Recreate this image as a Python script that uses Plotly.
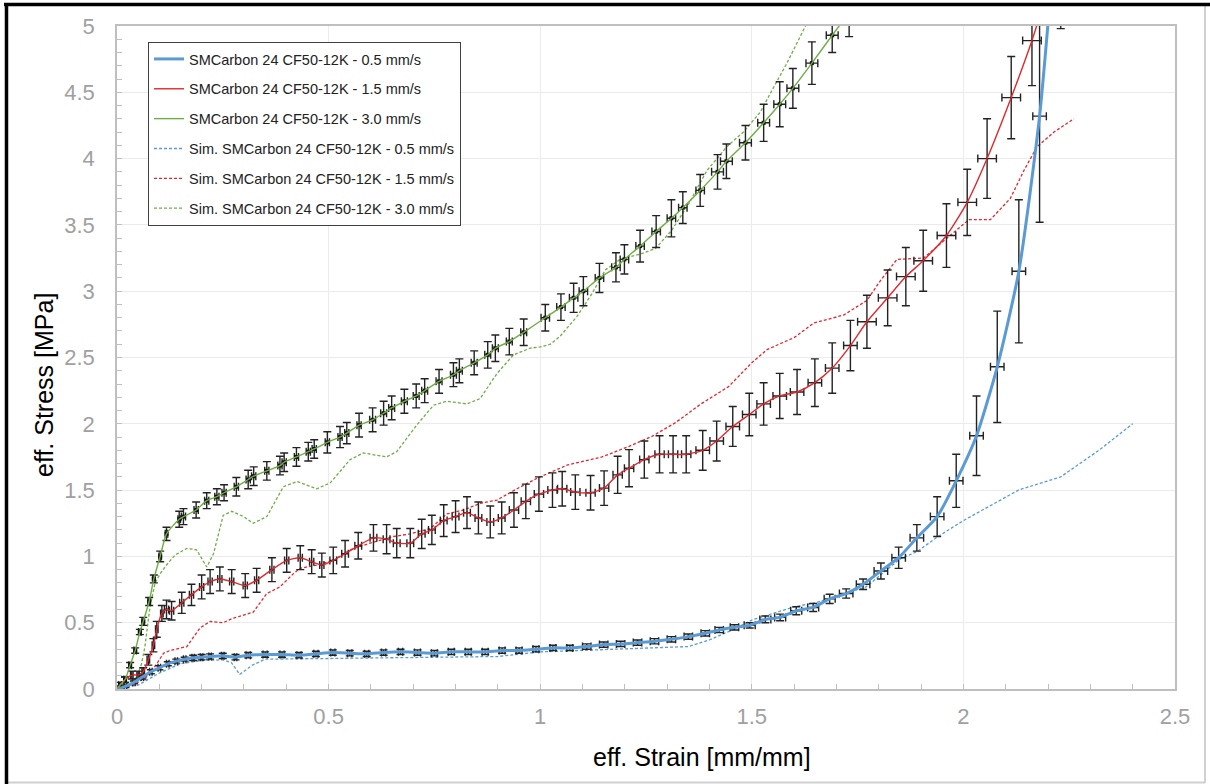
import plotly.graph_objects as go

# ---------------- data ----------------
# Experimental 0.5 mm/s
exp05_x = [0, 0.02, 0.04, 0.06, 0.08, 0.10, 0.12, 0.14, 0.16, 0.18, 0.20, 0.22, 0.25, 0.28, 0.31, 0.35,
           0.39, 0.43, 0.47, 0.51, 0.55, 0.59, 0.63, 0.67, 0.71, 0.75, 0.79, 0.83, 0.87, 0.91, 0.95,
           0.99, 1.03, 1.07, 1.11, 1.15, 1.19, 1.23, 1.27, 1.31, 1.35, 1.39, 1.423, 1.459, 1.495,
           1.532, 1.567, 1.605, 1.645, 1.684, 1.723, 1.763, 1.805, 1.847, 1.89, 1.938, 1.983, 2.031,
           2.08, 2.131, 2.18, 2.215]
exp05_y = [0, 0.02, 0.05, 0.09, 0.13, 0.16, 0.19, 0.21, 0.225, 0.235, 0.24, 0.245, 0.25, 0.24, 0.255, 0.26,
           0.26, 0.255, 0.265, 0.275, 0.27, 0.265, 0.275, 0.28, 0.275, 0.27, 0.28, 0.28, 0.28, 0.29, 0.29,
           0.30, 0.31, 0.31, 0.32, 0.335, 0.34, 0.35, 0.36, 0.375, 0.395, 0.42, 0.445, 0.465, 0.48,
           0.525, 0.54, 0.59, 0.615, 0.68, 0.72, 0.79, 0.89, 0.99, 1.14, 1.30, 1.57, 1.91,
           2.43, 3.15, 4.32, 5.6]
exp05_ey = [0.01, 0.01, 0.01, 0.015, 0.015, 0.015, 0.015, 0.015, 0.015, 0.02, 0.02, 0.02, 0.02, 0.02, 0.02, 0.02,
            0.02, 0.02, 0.02, 0.02, 0.02, 0.02, 0.02, 0.02, 0.02, 0.02, 0.02, 0.02, 0.02, 0.02, 0.02,
            0.02, 0.02, 0.02, 0.02, 0.02, 0.02, 0.02, 0.02, 0.02, 0.02, 0.02, 0.02, 0.02, 0.02,
            0.025, 0.025, 0.03, 0.03, 0.035, 0.035, 0.04, 0.06, 0.08, 0.10, 0.15, 0.20, 0.30,
            0.42, 0.54, 0.80, 0.3]
exp05_ex = [0.003] * 14 + [0.005] * 10 + [0.007] * 10 + [0.01] * 10 + [0.013] * 6 + [0.016] * 12

# Experimental 1.5 mm/s
exp15_x = [0, 0.019, 0.035, 0.05, 0.062, 0.074, 0.086, 0.094, 0.106, 0.117, 0.129, 0.153, 0.176, 0.2, 0.22,
           0.243, 0.271, 0.303, 0.33, 0.366, 0.401, 0.433, 0.46, 0.484, 0.511, 0.539, 0.57, 0.606, 0.637,
           0.661, 0.693, 0.72, 0.744, 0.772, 0.80, 0.827, 0.854, 0.882, 0.909, 0.938, 0.966, 0.997, 1.029,
           1.052, 1.083, 1.119, 1.151, 1.183, 1.21, 1.246, 1.282, 1.314, 1.345, 1.384, 1.417, 1.455, 1.494,
           1.528, 1.566, 1.607, 1.649, 1.69, 1.733, 1.772, 1.821, 1.864, 1.905, 1.96, 2.009, 2.056, 2.113,
           2.162, 2.23]
exp15_y = [0, 0.07, 0.105, 0.105, 0.13, 0.22, 0.33, 0.45, 0.57, 0.60, 0.59, 0.65, 0.71, 0.77, 0.81,
           0.83, 0.81, 0.78, 0.82, 0.90, 0.97, 0.99, 0.96, 0.935, 0.97, 1.02, 1.08, 1.14, 1.13,
           1.10, 1.10, 1.17, 1.20, 1.27, 1.30, 1.33, 1.29, 1.26, 1.29, 1.35, 1.415, 1.47, 1.50,
           1.51, 1.485, 1.48, 1.515, 1.615, 1.665, 1.73, 1.77, 1.77, 1.77, 1.80, 1.87, 1.98, 2.07,
           2.15, 2.21, 2.24, 2.31, 2.42, 2.59, 2.77, 2.95, 3.11, 3.23, 3.42, 3.67, 4.0, 4.46,
           4.89, 5.6]
exp15_ey = [0.01, 0.02, 0.03, 0.03, 0.03, 0.04, 0.05, 0.06, 0.06, 0.07, 0.07, 0.08, 0.08, 0.09, 0.09,
            0.09, 0.09, 0.09, 0.09, 0.09, 0.09, 0.09, 0.09, 0.09, 0.1, 0.1, 0.1, 0.1, 0.11,
            0.11, 0.11, 0.11, 0.11, 0.12, 0.12, 0.12, 0.12, 0.12, 0.12, 0.13, 0.13, 0.13, 0.13,
            0.13, 0.13, 0.13, 0.13, 0.14, 0.14, 0.14, 0.14, 0.14, 0.14, 0.15, 0.15, 0.15, 0.16,
            0.16, 0.17, 0.17, 0.18, 0.19, 0.19, 0.2, 0.21, 0.22, 0.23, 0.24, 0.25, 0.3, 0.31,
            0.34, 0.62]
exp15_ex = [0.003] * 9 + [0.005] * 15 + [0.008] * 15 + [0.011] * 14 + [0.016] * 10 + [0.022] * 10

# Experimental 3.0 mm/s
exp30_x = [0, 0.007, 0.019, 0.031, 0.043, 0.054, 0.062, 0.076, 0.087, 0.102, 0.117, 0.147, 0.157, 0.187,
           0.212, 0.236, 0.253, 0.282, 0.31, 0.323, 0.354, 0.385, 0.395, 0.424, 0.452, 0.466, 0.497,
           0.527, 0.543, 0.572, 0.604, 0.63, 0.649, 0.679, 0.707, 0.727, 0.761, 0.795, 0.809, 0.844,
           0.876, 0.894, 0.927, 0.961, 1.012, 1.049, 1.079, 1.102, 1.14, 1.179, 1.199, 1.236, 1.274,
           1.31, 1.337, 1.378, 1.419, 1.44, 1.485, 1.528, 1.566, 1.597, 1.642, 1.69, 1.73]
exp30_y = [0, 0.03, 0.07, 0.18, 0.29, 0.43, 0.51, 0.66, 0.83, 1.0, 1.17, 1.28, 1.30, 1.35,
           1.42, 1.45, 1.48, 1.525, 1.58, 1.605, 1.645, 1.685, 1.71, 1.75, 1.79, 1.81, 1.86,
           1.90, 1.93, 1.99, 2.03, 2.08, 2.12, 2.17, 2.21, 2.25, 2.32, 2.37, 2.40, 2.46,
           2.52, 2.57, 2.62, 2.69, 2.80, 2.88, 2.95, 3.00, 3.10, 3.18, 3.24, 3.34, 3.45,
           3.55, 3.63, 3.76, 3.90, 3.98, 4.12, 4.27, 4.41, 4.53, 4.72, 4.93, 5.1]
exp30_ey = [0.01, 0.02, 0.02, 0.02, 0.02, 0.02, 0.03, 0.03, 0.03, 0.04, 0.05, 0.06, 0.06, 0.06,
            0.06, 0.06, 0.06, 0.07, 0.07, 0.07, 0.07, 0.07, 0.07, 0.07, 0.07, 0.07, 0.08,
            0.08, 0.08, 0.09, 0.09, 0.09, 0.09, 0.09, 0.09, 0.09, 0.09, 0.09, 0.09, 0.09,
            0.1, 0.1, 0.1, 0.1, 0.1, 0.1, 0.11, 0.11, 0.11, 0.11, 0.11, 0.12, 0.12,
            0.14, 0.12, 0.12, 0.13, 0.13, 0.13, 0.14, 0.17, 0.15, 0.16, 0.13, 0.18]
exp30_ex = [0.003] * 12 + [0.005] * 18 + [0.007] * 14 + [0.01] * 12 + [0.014] * 9

# Simulations
sim05_x = [0, 0.05, 0.1, 0.15, 0.2, 0.25, 0.27, 0.29, 0.32, 0.35, 0.5, 0.9, 1.0, 1.2, 1.35, 1.40, 1.45,
           1.5, 1.6, 1.65, 1.77, 1.85, 1.89, 1.94, 2.0, 2.13, 2.23, 2.32, 2.40]
sim05_y = [0, 0.03, 0.12, 0.19, 0.215, 0.22, 0.20, 0.11, 0.18, 0.225, 0.23, 0.245, 0.28, 0.30, 0.32, 0.37, 0.44,
           0.52, 0.62, 0.65, 0.77, 0.98, 1.035, 1.15, 1.27, 1.50, 1.60, 1.80, 2.0]

sim15_x = [0, 0.039, 0.07, 0.094, 0.11, 0.125, 0.165, 0.196, 0.22, 0.251, 0.271, 0.299, 0.322, 0.354,
           0.385, 0.417, 0.433, 0.472, 0.511, 0.551, 0.598, 0.653, 0.693, 0.74, 0.779, 0.819, 0.858,
           0.898, 0.945, 0.993, 1.065, 1.146, 1.21, 1.264, 1.318, 1.38, 1.445, 1.50, 1.536, 1.60,
           1.646, 1.717, 1.772, 1.804, 1.843, 1.906, 1.961, 2.013, 2.064, 2.111, 2.143, 2.174, 2.214, 2.261]
sim15_y = [0, 0.03, 0.09, 0.19, 0.27, 0.29, 0.32, 0.46, 0.51, 0.50, 0.53, 0.56, 0.58, 0.72,
           0.77, 0.87, 0.91, 0.935, 0.97, 1.05, 1.10, 1.15, 1.17, 1.21, 1.32, 1.35, 1.40,
           1.425, 1.51, 1.59, 1.69, 1.75, 1.83, 1.905, 2.005, 2.15, 2.28, 2.46, 2.56, 2.65,
           2.76, 2.82, 2.93, 3.08, 3.24, 3.25, 3.40, 3.54, 3.54, 3.70, 3.91, 4.09, 4.20, 4.30]

sim30_x = [0, 0.023, 0.047, 0.058, 0.066, 0.078, 0.09, 0.102, 0.117, 0.137, 0.165, 0.188, 0.212, 0.228,
           0.251, 0.271, 0.299, 0.322, 0.354, 0.393, 0.425, 0.472, 0.504, 0.551, 0.582, 0.637, 0.661,
           0.708, 0.748, 0.779, 0.827, 0.858, 0.898, 0.937, 0.976, 1.0, 1.024, 1.047, 1.087, 1.122,
           1.154, 1.189, 1.236, 1.272, 1.311, 1.351, 1.394, 1.441, 1.48, 1.52, 1.552, 1.583, 1.622, 1.64]
sim30_y = [0, 0.04, 0.09, 0.19, 0.32, 0.62, 0.80, 0.87, 0.935, 1.01, 1.06, 1.05, 0.92, 1.02,
           1.31, 1.34, 1.30, 1.25, 1.30, 1.525, 1.565, 1.51, 1.555, 1.73, 1.78, 1.75, 1.79,
           1.99, 2.14, 2.17, 2.15, 2.19, 2.38, 2.52, 2.57, 2.58, 2.60, 2.66, 2.81, 2.98,
           3.16, 3.24, 3.28, 3.32, 3.46, 3.66, 3.91, 4.09, 4.20, 4.35, 4.54, 4.72, 4.97, 5.08]

names = ["SMCarbon 24 CF50-12K - 0.5 mm/s", "SMCarbon 24 CF50-12K - 1.5 mm/s", "SMCarbon 24 CF50-12K - 3.0 mm/s",
         "Sim. SMCarbon 24 CF50-12K - 0.5 mm/s", "Sim. SMCarbon 24 CF50-12K - 1.5 mm/s",
         "Sim. SMCarbon 24 CF50-12K - 3.0 mm/s"]

x_ticks = [0, 0.5, 1, 1.5, 2, 2.5]
y_ticks = [0, 0.5, 1, 1.5, 2, 2.5, 3, 3.5, 4, 4.5, 5]

# ---------------- styling ----------------
BLUE = "#5B9BD5"
RED = "#E0282E"
GREEN = "#70AD47"

W, H = 1210, 784
L, R, T, B = 117, 35, 26, 95
pw, ph = W - L - R, H - T - B


def px2paper(px, py):
    return (px - L) / pw, (H - B - py) / ph


fig = go.Figure()

# simulations (drawn first)
for sx, sy, col, nm, rk in [(sim05_x, sim05_y, BLUE, names[3], 4),
                             (sim15_x, sim15_y, RED, names[4], 5),
                             (sim30_x, sim30_y, GREEN, names[5], 6)]:
    fig.add_trace(go.Scatter(x=sx, y=sy, mode="lines", name=nm, legendrank=rk, legendgroup=nm,
                             line=dict(color=col, width=1.3, dash="3px,2px")))

# experimental error bars
for ex_, ey_, exx, eyy, msz in [(exp05_x, exp05_y, exp05_ex, exp05_ey, 2),
                                (exp15_x, exp15_y, exp15_ex, exp15_ey, 2),
                                (exp30_x, exp30_y, exp30_ex, exp30_ey, 4)]:
    fig.add_trace(go.Scatter(x=ex_, y=ey_, mode="markers", showlegend=False, hoverinfo="skip",
                             marker=dict(symbol="square", size=msz, color="#111111"),
                             error_y=dict(type="data", array=eyy, color="#222222", thickness=1.4, width=4),
                             error_x=dict(type="data", array=exx, color="#222222", thickness=1.4, width=4)))

# experimental lines
for ex_, ey_, col, wd, nm, rk in [(exp05_x, exp05_y, BLUE, 3, names[0], 1),
                                  (exp15_x, exp15_y, RED, 1.4, names[1], 2),
                                  (exp30_x, exp30_y, GREEN, 1.4, names[2], 3)]:
    fig.add_trace(go.Scatter(x=ex_, y=ey_, mode="lines", name=nm, legendrank=rk, legendgroup=nm,
                             line=dict(color=col, width=wd, shape="spline", smoothing=0.6)))

axis_common = dict(
    showline=True, linecolor="#BFBFBF", linewidth=1.5, mirror=True,
    showgrid=True, gridcolor="#EBEBEB", gridwidth=1,
    ticks="inside", ticklen=5, tickcolor="#BFBFBF", tickwidth=1,
    tickfont=dict(family="Liberation Sans, Arial", size=22, color="#A0A0A0"),
    zeroline=False,
    minor=dict(dtick=0.1, ticks="inside", ticklen=5, tickcolor="#BFBFBF", showgrid=False),
)

fig.update_xaxes(range=[0, 2.5], tickvals=x_ticks, ticktext=[f"{v:g}" for v in x_ticks],
                 ticklabelstandoff=7, **axis_common)
fig.update_yaxes(range=[0, 5], tickvals=y_ticks, ticktext=[f"{v:g}" for v in y_ticks],
                 ticklabelstandoff=16, **axis_common)

lx, ly = px2paper(148, 42)
fig.update_layout(
    width=W, height=H,
    margin=dict(l=L, r=R, t=T, b=B, autoexpand=False),
    paper_bgcolor="white", plot_bgcolor="white",
    showlegend=True,
    legend=dict(x=lx, y=ly, xanchor="left", yanchor="top",
                bgcolor="white", bordercolor="#404040", borderwidth=1,
                font=dict(family="Liberation Sans, Arial", size=14.5, color="#222222"),
                traceorder="grouped", tracegroupgap=8),
)

# axis titles
tx, ty = px2paper(702, 757)
fig.add_annotation(x=tx, y=ty, xref="paper", yref="paper", text="eff. Strain [mm/mm]", showarrow=False,
                   xanchor="center", yanchor="middle",
                   font=dict(family="Liberation Sans, Arial", size=25, color="black"))
yx, yy = px2paper(44, 385)
fig.add_annotation(x=yx, y=yy, xref="paper", yref="paper", text="eff. Stress [MPa]", showarrow=False,
                   xanchor="center", yanchor="middle",
                   textangle=-90, font=dict(family="Liberation Sans, Arial", size=25, color="black"))

# outer chart frame
def line_shape(x0, y0, x1, y1, color, width):
    a = px2paper(x0, y0)
    b = px2paper(x1, y1)
    fig.add_shape(type="line", xref="paper", yref="paper", x0=a[0], y0=a[1], x1=b[0], y1=b[1],
                  line=dict(color=color, width=width), layer="above")

line_shape(1205, 4, 1205, 783, "#D0D0D0", 2)
line_shape(5, 782.5, 1205, 782.5, "#D0D0D0", 2)
line_shape(4, 4.5, 1210, 4.5, "black", 3.5)
line_shape(6.5, 3, 6.5, 784, "black", 3.5)

fig.write_html("out.html", config={"displayModeBar": False},
               post_script="document.body.style.margin='0';document.body.style.overflow='hidden';")
